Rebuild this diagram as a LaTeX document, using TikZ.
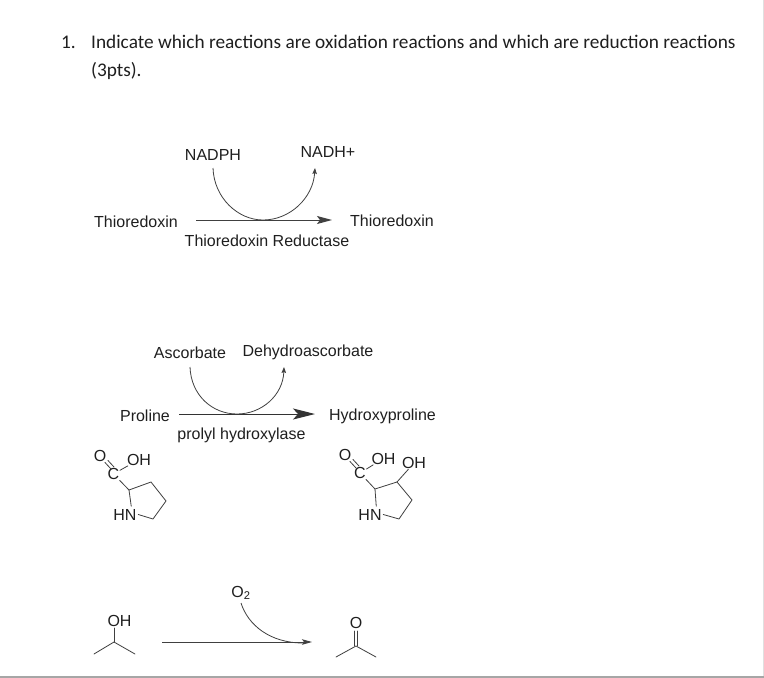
\documentclass[tikz,border=0pt]{standalone}
\usepackage{fontspec}
\setmainfont{Liberation Sans}
\newfontfamily\titlefont{Carlito}
\usetikzlibrary{arrows.meta}
\tikzset{
  lbl/.style={inner sep=0pt,font=\fontsize{16}{19}\selectfont,text=black!88},
  atom/.style={inner sep=0.5pt,font=\fontsize{16}{19}\selectfont,text=black!88},
  ttl/.style={inner sep=0pt,anchor=base west,font=\titlefont\fontsize{19.3}{23}\selectfont,text=black!88},
  bond/.style={draw=black!75,line width=0.8pt,line cap=round},
  rxn/.style={draw=black!75,line width=1pt,-{Stealth[length=15pt,width=8pt,inset=3pt]}},
  rxnb/.style={draw=black!80,line width=1pt,-{Stealth[length=22pt,width=11pt,inset=5pt]}},
  rxnc/.style={draw=black!75,line width=1pt,-{Stealth[length=10pt,width=5.5pt,inset=2pt]}},
  cofac/.style={draw=black!75,line width=0.8pt,-{Stealth[length=6pt,width=4.5pt,inset=1pt]}},
  cofacp/.style={draw=black!75,line width=0.8pt}
}
\begin{document}
\begin{tikzpicture}[x=1pt,y=-1pt]
\useasboundingbox (0,0) rectangle (764,678);
\fill[white] (0,0) rectangle (764,678);
\coordinate (bl) at (0,677); \coordinate (br) at (764,677);
\coordinate (rt) at (763.5,0); \coordinate (rb) at (763.5,678);
\draw[black!12,line width=1pt] (rt) -- (rb);
\draw[black!35,line width=1.2pt] (bl) -- (br);
\node[ttl] (num) at (61,48.5) {1.};
\node[ttl] (t1) at (91,48.5) {Indicate which reactions are oxidation reactions and which are reduction reactions};
\node[ttl] (t2) at (91,76.5) {(3pts).};
% reaction 1
\node[lbl] (nadph) at (213,154.5) {NADPH};
\node[lbl] (nadh) at (328,151.5) {NADH+};
\node[lbl] (thioL) at (136,221.5) {Thioredoxin};
\node[lbl] (thioR) at (392,221) {Thioredoxin};
\node[lbl] (thioE) at (267,240.5) {Thioredoxin Reductase};
\coordinate (a1s) at (196,220); \coordinate (a1e) at (332,220);
\coordinate (c1s) at (213,168); \coordinate (c1m) at (263,220); \coordinate (c1e) at (315,168);
\draw[rxn] (a1s) -- (a1e);
\draw[cofac] (c1s) .. controls (214,198) and (238,220) .. (c1m) .. controls (290,220) and (313,198) .. (c1e);
% reaction 2
\node[lbl] (asc) at (190,352.5) {Ascorbate};
\node[lbl] (dehy) at (308,352.5) {Dehydroascorbate};
\node[lbl] (pro) at (145,416) {Proline};
\node[lbl] (hyp) at (382.5,416.5) {Hydroxyproline};
\node[lbl] (phd) at (241.5,435.5) {prolyl hydroxylase};
\coordinate (a2s) at (179,414); \coordinate (a2e) at (315,414);
\coordinate (c2s) at (190,367); \coordinate (c2m) at (237,414); \coordinate (c2e) at (284,367);
\draw[rxnb] (a2s) -- (a2e);
\draw[cofac] (c2s) .. controls (191,395) and (212,414) .. (c2m) .. controls (262,414) and (283,395) .. (c2e);
% proline
\node[atom] (pO) at (100,456) {O};
\node[atom] (pOH) at (139,459.5) {OH};
\node[atom] (pC) at (113.5,474) {C};
\node[atom] (pN) at (125,514.5) {HN};
\coordinate (p2) at (129,490); \coordinate (p3) at (151,482); \coordinate (p4) at (166,501); \coordinate (p5) at (153,519);
\draw[bond] (105,462.5) -- (111,469) (108,460.5) -- (114,467);
\draw[bond] (pC) -- (pOH);
\draw[bond] (pC) -- (p2) -- (p3) -- (p4) -- (p5) -- ([xshift=1pt]pN.east);
\draw[bond] ([xshift=-6pt,yshift=2pt]pN.north east) -- (p2);
% hydroxyproline
\node[atom] (hO) at (345,455) {O};
\node[atom] (hOH) at (383.5,458.5) {OH};
\node[atom] (hC) at (360,473) {C};
\node[atom] (hN) at (370,514.5) {HN};
\node[atom] (hOH2) at (414,463) {OH};
\coordinate (h2) at (375,489); \coordinate (h3) at (397,482); \coordinate (h4) at (412,500); \coordinate (h5) at (399,519);
\draw[bond] (350,461.5) -- (356,468) (353,459.5) -- (359,466);
\draw[bond] (hC) -- (hOH);
\draw[bond] (hC) -- (h2) -- (h3) -- (h4) -- (h5) -- ([xshift=1pt]hN.east);
\draw[bond] ([xshift=-6pt,yshift=2pt]hN.north east) -- (h2);
\draw[bond] (h3) -- (hOH2);
% reaction 3
\node[atom] (iOH) at (119.5,620.5) {OH};
\coordinate (i0) at (114,642); \coordinate (i1) at (94,654); \coordinate (i2) at (135,654);
\draw[bond] (i1) -- (i0) -- (i2);
\draw[bond] (i0) -- (114,628);
\node[lbl] (o2) at (241,593) {O\textsubscript{2}};
\coordinate (a3s) at (162,642); \coordinate (a3e) at (312,642);
\coordinate (c3e) at (303,643);
\draw[rxnc] (a3s) -- (a3e);
\draw[cofacp] (241,603) .. controls (248,625) and (270,643) .. (c3e);
\node[atom] (kO) at (356,623) {O};
\coordinate (k0) at (356,646); \coordinate (k1) at (336,657); \coordinate (k2) at (376,657);
\draw[bond] (k1) -- (k0) -- (k2);
\draw[bond] (354.5,646) -- (354.5,631) (357.5,646) -- (357.5,631);
\end{tikzpicture}
\end{document}
